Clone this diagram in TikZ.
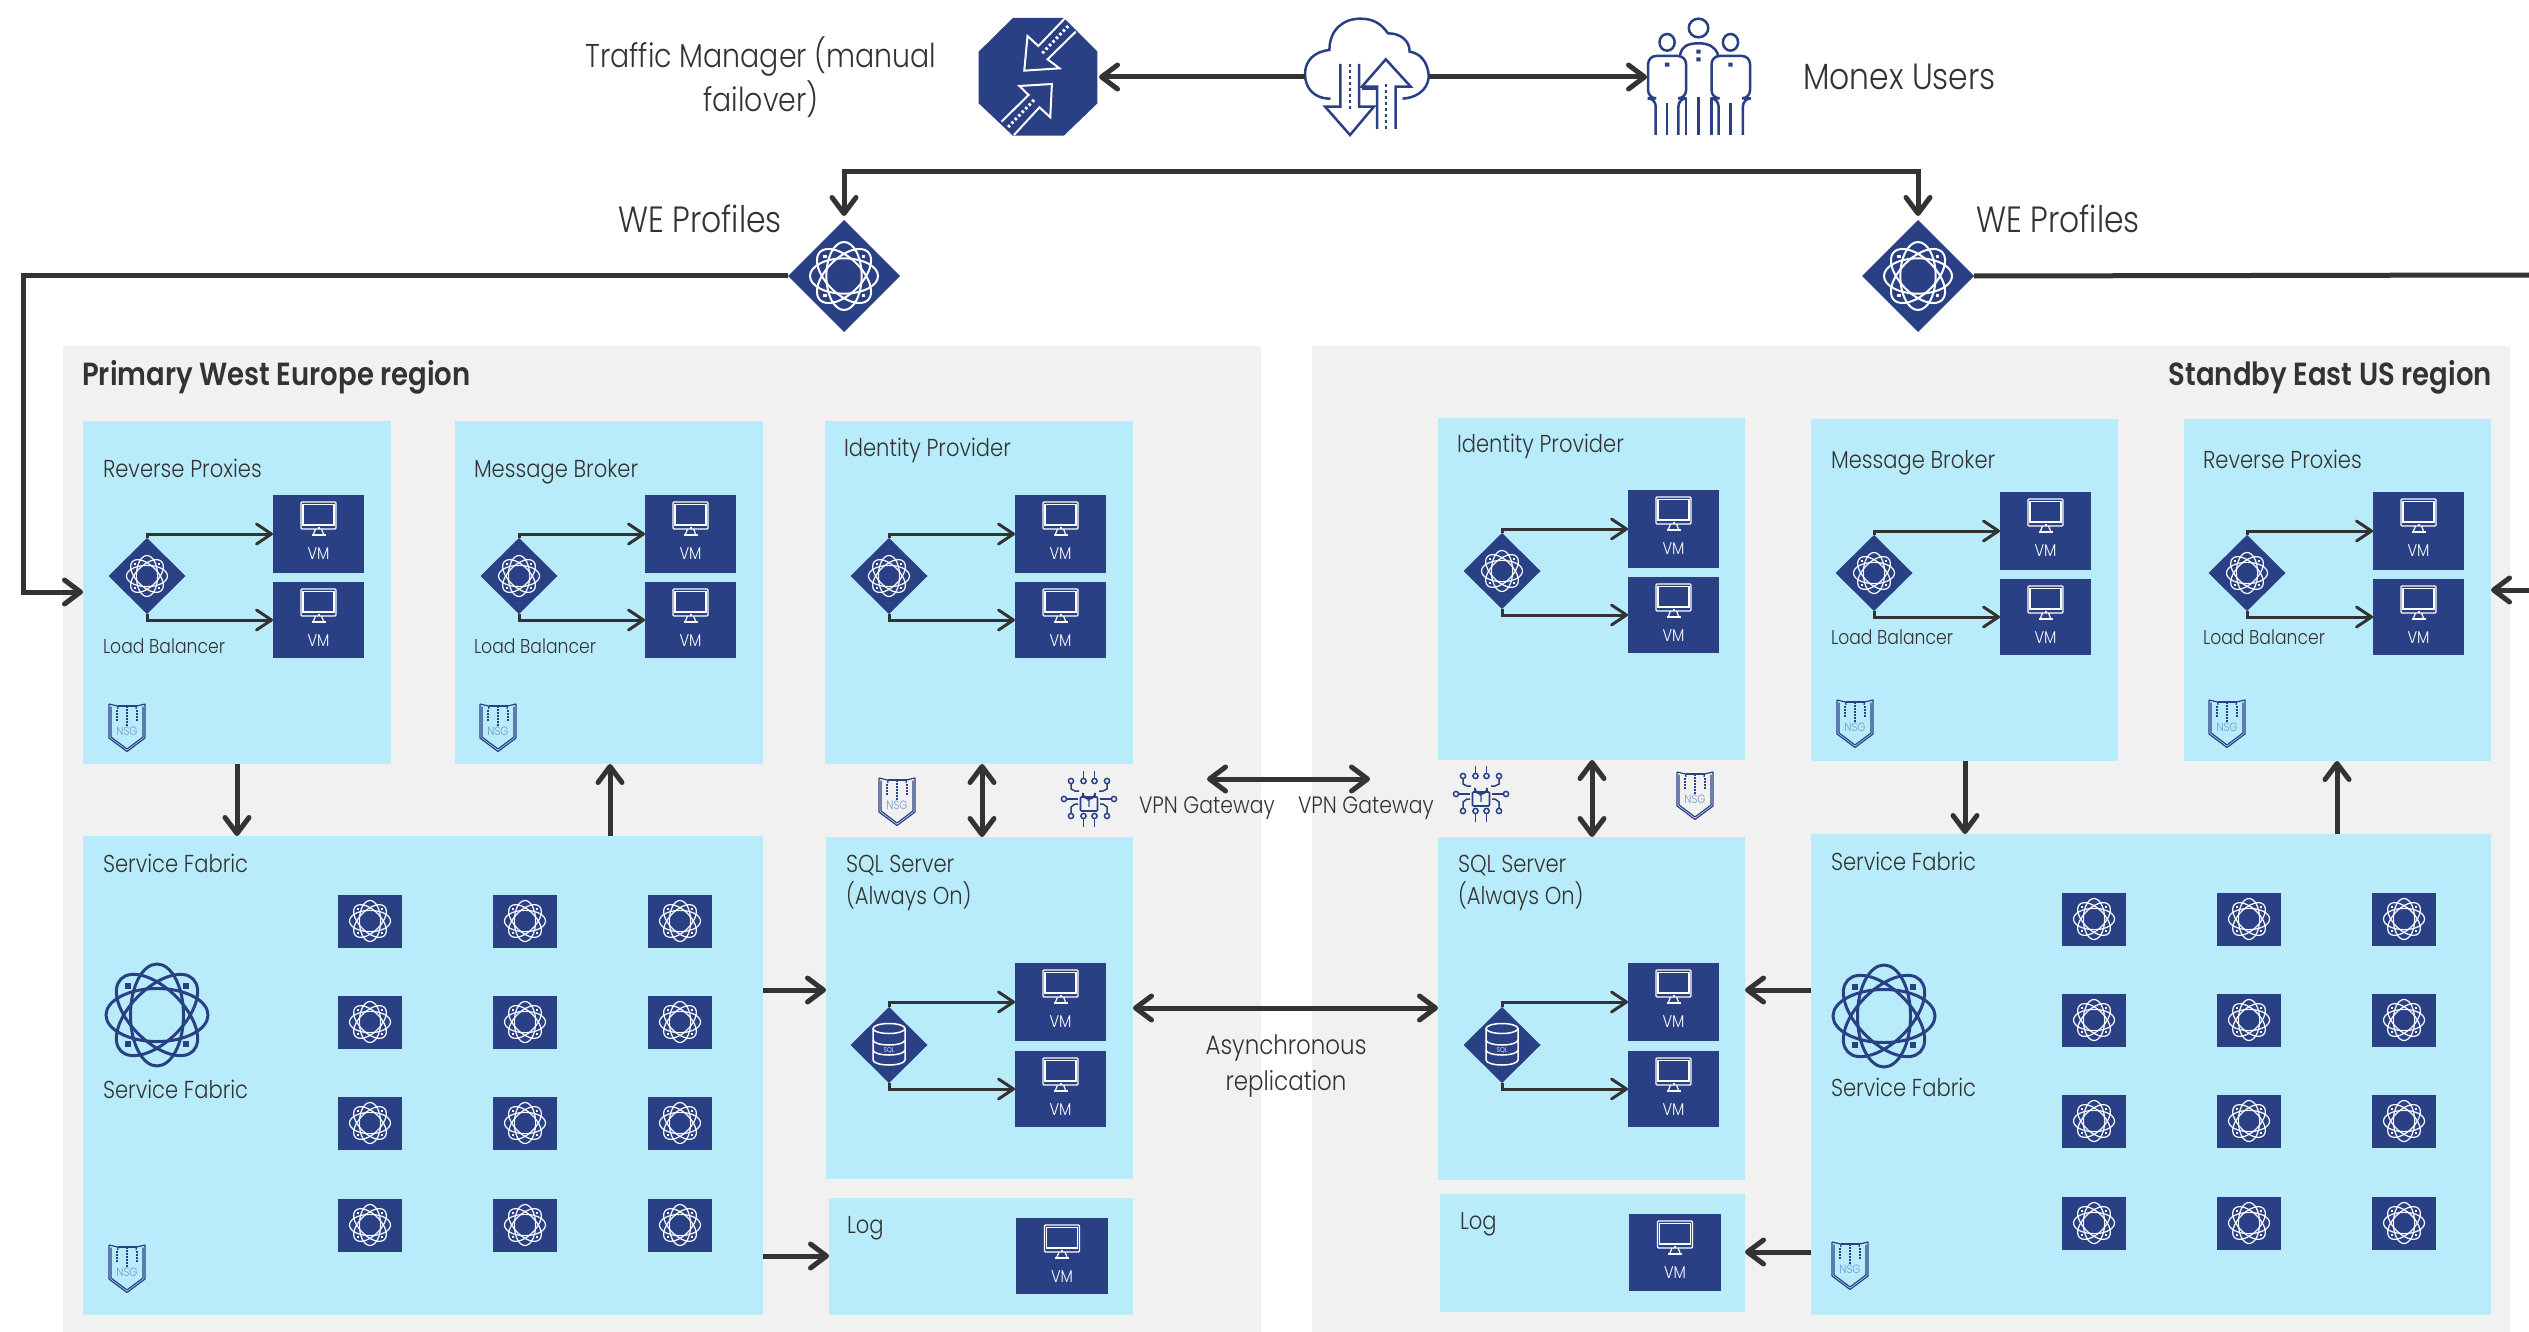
\documentclass[tikz,border=0pt]{standalone}
\usepackage{fontspec}
\setmainfont{Poppins}[UprightFont=* Light,BoldFont=* SemiBold,FakeStretch=0.86]
\usetikzlibrary{arrows.meta,shapes.geometric,calc}
\definecolor{navy}{HTML}{294085}
\definecolor{sky}{HTML}{B9ECFB}
\definecolor{pale}{HTML}{F1F1F1}
\definecolor{ink}{HTML}{333333}
\definecolor{nsgtxt}{HTML}{6F95D0}
\newcommand\fs[1]{\fontsize{#1}{#1}\selectfont}
\tikzset{
  x=1pt,y=-1pt,
  bigtip/.tip={Straight Barb[length=16pt,width=24pt,round]},
  smalltip/.tip={Straight Barb[length=15pt,width=20pt,round]},
  big/.style={line width=5pt,draw=ink},
  small/.style={line width=3pt,draw=ink},
  regionbox/.style={fill=pale,draw=none,inner sep=0pt,outer sep=0pt},
  bluebox/.style={fill=sky,draw=none,inner sep=0pt,outer sep=0pt},
  vmnode/.style={fill=navy,draw=none,inner sep=0pt,outer sep=0pt},
  iconbox/.style={inner sep=0pt,outer sep=0pt,draw=none},
  dia/.style={diamond,aspect=1,fill=navy,draw=none,inner sep=0pt,outer sep=0pt},
  lbl/.style={inner sep=0pt,outer sep=0pt,anchor=base west,text=ink,font=\fs{24.5}},
  lblsmall/.style={lbl,font=\fs{20}},
  lblbig/.style={inner sep=0pt,anchor=base west,text=ink,font=\fs{36.5}},
  lbltitle/.style={inner sep=0pt,anchor=base west,text=ink,font=\fs{32}\bfseries},
}
% rectangle node from corners
\newcommand\rectnode[6]{\node[#1,anchor=north west,minimum width={(#5-#3)*1pt},minimum height={(#6-#4)*1pt}] (#2) at (#3,#4) {};}
% atom icon: x y radius colour linewidth
\newcommand\atomicon[5]{%
  \begin{scope}[shift={(#1,#2)}]
    \foreach \a in {0,45,90,135}{\draw[#4,line width=#5pt,rotate=\a] (0,0) ellipse [x radius=#3,y radius={.52*#3}];}
    \foreach \sx/\sy in {1/1,1/-1,-1/1,-1/-1}{\fill[#4] ($(\sx*.57*#3,\sy*.57*#3)+(-.055*#3,-.055*#3)$) rectangle ++(.11*#3,.11*#3);}
  \end{scope}}
% virtual machine box
\newcommand\vmbox[5]{%
  \rectnode{vmnode}{#1}{#2}{#3}{#4}{#5}
  \begin{scope}[shift={(#1.north)},white]
    \draw[line width=1.2pt,rounded corners=1pt] (-17.5,7) rectangle (17.5,34);
    \draw[line width=1.2pt] (-15.5,9.5) rectangle (15.5,30);
    \draw[line width=1.2pt] (-3,34) -- (-5,39) (3,34) -- (5,39);
    \draw[line width=1.6pt] (-7,40) -- (7,40);
    \fill (-1,31.5) rectangle (1,33.5);
    \node[inner sep=0pt,text=white,font=\fs{17}] (#1t) at (0,58.5) {VM};
  \end{scope}}
% NSG shield
\newcommand\nsg[3]{%
  \begin{scope}[shift={(#2,#3)},navy]
    \draw[line width=1.2pt,line join=round] (-18,-24) -- (-18,10) -- (0,23.5) -- (18,10) -- (18,-24) -- (9.5,-22) -- (9,-19) (-18,-24) -- (-9.5,-22) -- (-9,-19);
    \draw[line width=1.2pt,line join=round] (-16,-21.5) -- (-16,9) -- (0,21) -- (16,9) -- (16,-21.5);
    \draw[line width=1.2pt] (-9.5,-22) -- (9.5,-22);
    \draw[line width=1.4pt,dash pattern=on 1.5pt off 1.5pt] (0,-22) -- (0,-2) (-10,-18) -- (-10,-7) (10,-18) -- (10,-7);
    \node[inner sep=0pt,text=nsgtxt,font=\fs{12}] (#1) at (0,3) {NSG};
  \end{scope}}
% lock and circuit
\newcommand\lockicon[3]{%
  \begin{scope}[shift={(#2,#3)},navy,line width=1.5pt]
    \draw[line width=1.7pt,rounded corners=1pt] (-8.5,-2) rectangle (8.5,12);
    \draw[line width=1.7pt] (-6,-2) -- (-6,-6) arc[start angle=180,end angle=0,radius=6] -- (6,-2);
    \node[inner sep=0pt,text=navy,font=\fs{10}\bfseries] (#1) at (0,5) {1};
    \foreach \s in {1,-1}{
      \draw (\s*5.5,-28) -- (\s*5.5,-21);
      \draw (\s*5.5,-18) circle[radius=2.6];
      \draw (\s*18,-18) circle[radius=2.6];
      \draw (\s*18,-15.4) -- (\s*18,-10) -- (\s*14,-8) -- (\s*10,-8);
      \draw (\s*25,0) circle[radius=2.6];
      \draw (\s*22.4,0) -- (\s*11,0);
      \draw (\s*5.5,28) -- (\s*5.5,19);
      \draw (\s*5.5,17) circle[radius=2.6];
      \draw (\s*18,17) circle[radius=2.6];
      \draw (\s*18,14.4) -- (\s*18,8) -- (\s*14,5) -- (\s*11,5);
    }
  \end{scope}}
% SQL cylinder
\newcommand\sqlicon[3]{%
  \begin{scope}[shift={(#2,#3)},white,line width=1.5pt]
    \draw (0,-16.5) ellipse[x radius=16,y radius=5];
    \draw (-16,-16.5) -- (-16,15) arc[start angle=180,end angle=360,x radius=16,y radius=-5] -- (16,-16.5);
    \draw (-16,-5) arc[start angle=180,end angle=360,x radius=16,y radius=-5];
    \draw (-16,5) arc[start angle=180,end angle=360,x radius=16,y radius=-5];
    \node[inner sep=0pt,text=white,font=\fs{7}] (#1) at (0,5) {SQL};
  \end{scope}}
% load balancer trio
\newcommand\lbgroup[9]{% prefix, diax, diay, vmx1, vmx2, y1,y2,y3,y4
  \node[dia,minimum width=77pt,minimum height=76pt] (#1d) at (#2,#3) {};
  \vmbox{#1a}{#4}{#6}{#5}{#7}
  \vmbox{#1b}{#4}{#8}{#5}{#9}
  \draw[small,-smalltip] (#1d.north) |- (#1a.west);
  \draw[small,-smalltip] (#1d.south) |- (#1b.west);
}
\begin{document}
\begin{tikzpicture}
\useasboundingbox (0,0) rectangle (2529,1332);
\fill[white] (0,0) rectangle (2529,1332);
% regions
\rectnode{regionbox}{regL}{63}{346}{1261}{1332}
\rectnode{regionbox}{regR}{1312}{346}{2510}{1332}
\node[lbltitle] (tL) at (82,385) {Primary West Europe region};
\node[lbltitle,anchor=base east] (tR) at (2492,385) {Standby East US region};
% blue boxes left
\rectnode{bluebox}{rpL}{83}{421}{391}{764}
\rectnode{bluebox}{mbL}{455}{421}{763}{764}
\rectnode{bluebox}{idL}{825}{421}{1133}{764}
\rectnode{bluebox}{sfL}{83}{836}{763}{1315}
\rectnode{bluebox}{sqL}{826}{837}{1133}{1179}
\rectnode{bluebox}{lgL}{829}{1198}{1133}{1315}
% blue boxes right
\rectnode{bluebox}{idR}{1438}{418}{1745}{760}
\rectnode{bluebox}{mbR}{1811}{419}{2118}{761}
\rectnode{bluebox}{rpR}{2184}{419}{2491}{761}
\rectnode{bluebox}{sfR}{1811}{834}{2491}{1315}
\rectnode{bluebox}{sqR}{1438}{837}{1745}{1180}
\rectnode{bluebox}{lgR}{1440}{1194}{1745}{1312}
% load balancers left
\lbgroup{rl}{147}{576}{273}{364}{495}{573}{582}{658}
\lbgroup{ml}{519}{576}{645}{736}{495}{573}{582}{658}
\lbgroup{il}{889}{576}{1015}{1106}{495}{573}{582}{658}
\lbgroup{sl}{889}{1045}{1015}{1106}{963}{1041}{1051}{1127}
% load balancers right
\lbgroup{ir}{1502}{571}{1628}{1719}{490}{568}{577}{653}
\lbgroup{mr}{1874}{573}{2000}{2091}{492}{570}{579}{655}
\lbgroup{rr}{2247}{573}{2373}{2464}{492}{570}{579}{655}
\lbgroup{sr}{1502}{1045}{1628}{1719}{963}{1041}{1051}{1127}
\vmbox{lvL}{1016}{1218}{1108}{1294}
\vmbox{lvR}{1629}{1214}{1721}{1291}
\atomicon{147}{576}{20.5}{white}{1.2}
\atomicon{519}{576}{20.5}{white}{1.2}
\atomicon{889}{576}{20.5}{white}{1.2}
\atomicon{1502}{571}{20.5}{white}{1.2}
\atomicon{1874}{573}{20.5}{white}{1.2}
\atomicon{2247}{573}{20.5}{white}{1.2}
\sqlicon{sqiL}{889}{1045}
\sqlicon{sqiR}{1502}{1045}
% service fabric grids
\foreach \cx [count=\i] in {370,525,680}{\foreach \cy [count=\j] in {921,1022,1123,1225}{
  \node[vmnode,minimum width=64pt,minimum height=53pt] (gl\i\j) at (\cx,\cy) {};
  \atomicon{\cx}{\cy}{20.5}{white}{1.2}}}
\foreach \cx [count=\i] in {2094,2249,2404}{\foreach \cy [count=\j] in {919,1020,1121,1223}{
  \node[vmnode,minimum width=64pt,minimum height=53pt] (gr\i\j) at (\cx,\cy) {};
  \atomicon{\cx}{\cy}{20.5}{white}{1.2}}}
\atomicon{157}{1015}{51}{navy}{3}
\atomicon{1884}{1016}{51}{navy}{3}
% NSG
\nsg{nsg1}{127}{728}
\nsg{nsg2}{498}{728}
\nsg{nsg3}{897}{802}
\nsg{nsg4}{127}{1269}
\nsg{nsg5}{1695}{796}
\nsg{nsg6}{1855}{724}
\nsg{nsg7}{2227}{724}
\nsg{nsg8}{1850}{1266}
\lockicon{lk1}{1089}{799}
\lockicon{lk2}{1481}{794}
% box labels
\node[lbl] (a1) at (103,477) {Reverse Proxies};
\node[lblsmall] (a2) at (103,653) {Load Balancer};
\node[lbl] (a3) at (474,477) {Message Broker};
\node[lblsmall] (a4) at (474,653) {Load Balancer};
\node[lbl] (a5) at (844,456) {Identity Provider};
\node[lbl] (a6) at (103,872) {Service Fabric};
\node[lbl] (a7) at (103,1098) {Service Fabric};
\node[lbl] (a8) at (846,872) {SQL Server};
\node[lbl] (a9) at (846,904) {(Always On)};
\node[lbl] (a10) at (847,1233) {Log};
\node[lbl] (b1) at (2203,468) {Reverse Proxies};
\node[lblsmall] (b2) at (2203,644) {Load Balancer};
\node[lbl] (b3) at (1831,468) {Message Broker};
\node[lblsmall] (b4) at (1831,644) {Load Balancer};
\node[lbl] (b5) at (1457,452) {Identity Provider};
\node[lbl] (b6) at (1831,870) {Service Fabric};
\node[lbl] (b7) at (1831,1096) {Service Fabric};
\node[lbl] (b8) at (1458,872) {SQL Server};
\node[lbl] (b9) at (1458,904) {(Always On)};
\node[lbl] (b10) at (1460,1229) {Log};
\node[lblsmall,font=\fs{23.7}] (v1) at (1139,813) {VPN Gateway};
\node[lblsmall,font=\fs{23.7}] (v2) at (1298,813) {VPN Gateway};
\node[lbl,font=\fs{26.7},anchor=base] (as1) at (1286,1054) {Asynchronous};
\node[lbl,font=\fs{26.7},anchor=base] (as2) at (1286,1090) {replication};
% top icons
\node[iconbox,minimum width=118pt,minimum height=118pt] (tm) at (1038,77) {};
\node[iconbox,minimum width=124pt,minimum height=118pt] (cloud) at (1367,77) {};
\node[iconbox,minimum width=103pt,minimum height=118pt] (users) at (1698.5,77) {};
\begin{scope}[shift={(950,0)},xscale=0.542,yscale=0.3333]
  % octagon
  \fill[navy] (116,54) -- (210,54) -- (272,155) -- (272,310) -- (210,407) -- (116,407) -- (53,310) -- (53,155) -- cycle;
  \draw[white,line width=2pt,line join=miter] (212,55) -- (163,138) -- (143,108) -- (137,212) -- (202,205) -- (180,178) -- (232,95);
  \draw[white,line width=2pt,line join=miter] (95,365) -- (145,285) -- (128,258) -- (188,252) -- (185,352) -- (165,322) -- (118,405);
  \draw[white,line width=3pt,dash pattern=on 2.5pt off 2.5pt] (218,78) -- (170,160) (155,300) -- (105,385);
  % cloud
  \begin{scope}[navy,line width=2.5pt]
    \draw (835,296) .. controls (870,292) and (885,255) .. (883,222) .. controls (880,185) and (868,160) .. (848,155)
      .. controls (848,120) and (830,100) .. (808,100) .. controls (795,70) and (780,56) .. (757,56)
      .. controls (725,56) and (700,90) .. (700,150) .. controls (670,155) and (655,185) .. (655,222) .. controls (655,262) and (670,296) .. (702,296);
    \draw[line join=miter] (720,192) -- (720,320) -- (692,320) -- (738,405) -- (782,320) -- (755,320) -- (755,192);
    \draw[line join=miter] (788,387) -- (788,260) -- (760,260) -- (804,178) -- (850,260) -- (822,260) -- (822,387);
    \draw (760,265) -- (788,265);
    \draw[dash pattern=on 3.5pt off 2.5pt] (738,192) -- (738,330) (804,252) -- (804,390);
  \end{scope}
  % users
  \begin{scope}[navy,line width=2.5pt,line join=miter]
    \draw (1381,84) ellipse[x radius=18,y radius=28];
    \draw (1323,127) ellipse[x radius=14,y radius=25];
    \draw (1440,127) ellipse[x radius=14,y radius=25];
    \draw (1347,165) .. controls (1350,140) and (1360,130) .. (1381,130) .. controls (1400,130) and (1412,140) .. (1417,165);
    \draw[rounded corners=8pt] (1302,405) -- (1302,295) -- (1288,295) -- (1288,168) -- (1358,168) -- (1358,295) -- (1344,295) -- (1344,405);
    \draw[rounded corners=8pt] (1463,405) -- (1463,295) -- (1476,295) -- (1476,168) -- (1405,168) -- (1405,295) -- (1418,295) -- (1418,405);
    \draw (1323,310) -- (1323,405) (1440,310) -- (1440,405);
    \draw (1358,295) -- (1358,405) (1381,290) -- (1381,405) (1405,295) -- (1405,405);
    \fill (1319,188) rectangle (1327,200) (1436,188) rectangle (1444,200) (1377,149) rectangle (1385,161) (1377,172) rectangle (1385,184);
  \end{scope}
\end{scope}
\node[lblbig,font=\fs{33},align=center,anchor=center] (tmt) at (761,77) {Traffic Manager (manual\\[3pt]failover)};
\node[lblbig] (mu) at (1803,90) {Monex Users};
\node[lblbig] (we1) at (618,233) {WE Profiles};
\node[lblbig] (we2) at (1976,233) {WE Profiles};
% WE diamonds
\node[dia,minimum width=112pt,minimum height=112pt] (weL) at (844,276) {};
\node[dia,minimum width=112pt,minimum height=112pt] (weR) at (1918,276) {};
\atomicon{844}{276}{34}{white}{2}
\atomicon{1918}{276}{34}{white}{2}
% connectors
\coordinate (busy) at (1380,172);
\coordinate (lx) at (23,592);
\coordinate (rx) at (2529,275);
\coordinate (ry) at (2529,590);
\draw[big,-bigtip] (cloud.east) -- (users.west);
\draw[big,-bigtip] (cloud.west) -- ([xshift=2pt]tm.east);
\draw[big,bigtip-bigtip,shorten <=4pt,shorten >=4pt] (weL.north) |- (busy) -| (weR.north);
\draw[big,-bigtip] (weL.west) -| (lx) -- (rpL.west |- lx);
\draw[big] (weR.east) -- (rx);
\draw[big,-bigtip] (ry) -- (rpR.east |- ry);
\coordinate (c1) at (237,800);
\coordinate (c2) at (610,800);
\coordinate (c3) at (982,800);
\coordinate (c4) at (1592,800);
\coordinate (c5) at (1965,800);
\coordinate (c6) at (2337,800);
\coordinate (h1) at (800,990);
\coordinate (h2) at (800,1256);
\coordinate (h3) at (1780,990);
\coordinate (h4) at (1780,1252);
\coordinate (h5) at (1286,1008);
\coordinate (vl) at (1207,779);
\coordinate (vr) at (1370,779);
\draw[big,-bigtip] (rpL.south -| c1) -- (sfL.north -| c1);
\draw[big,-bigtip] (sfL.north -| c2) -- (mbL.south -| c2);
\draw[big,bigtip-bigtip] (idL.south -| c3) -- (sqL.north -| c3);
\draw[big,bigtip-bigtip] (idR.south -| c4) -- (sqR.north -| c4);
\draw[big,-bigtip] (mbR.south -| c5) -- (sfR.north -| c5);
\draw[big,-bigtip] (sfR.north -| c6) -- (rpR.south -| c6);
\draw[big,-bigtip] (sfL.east |- h1) -- (sqL.west |- h1);
\draw[big,-bigtip] (sfL.east |- h2) -- (lgL.west |- h2);
\draw[big,-bigtip] (sfR.west |- h3) -- (sqR.east |- h3);
\draw[big,-bigtip] (sfR.west |- h4) -- (lgR.east |- h4);
\draw[big,bigtip-bigtip] (sqL.east |- h5) -- (sqR.west |- h5);
\draw[big,bigtip-bigtip] (vl) -- (vr);
\end{tikzpicture}
\end{document}
